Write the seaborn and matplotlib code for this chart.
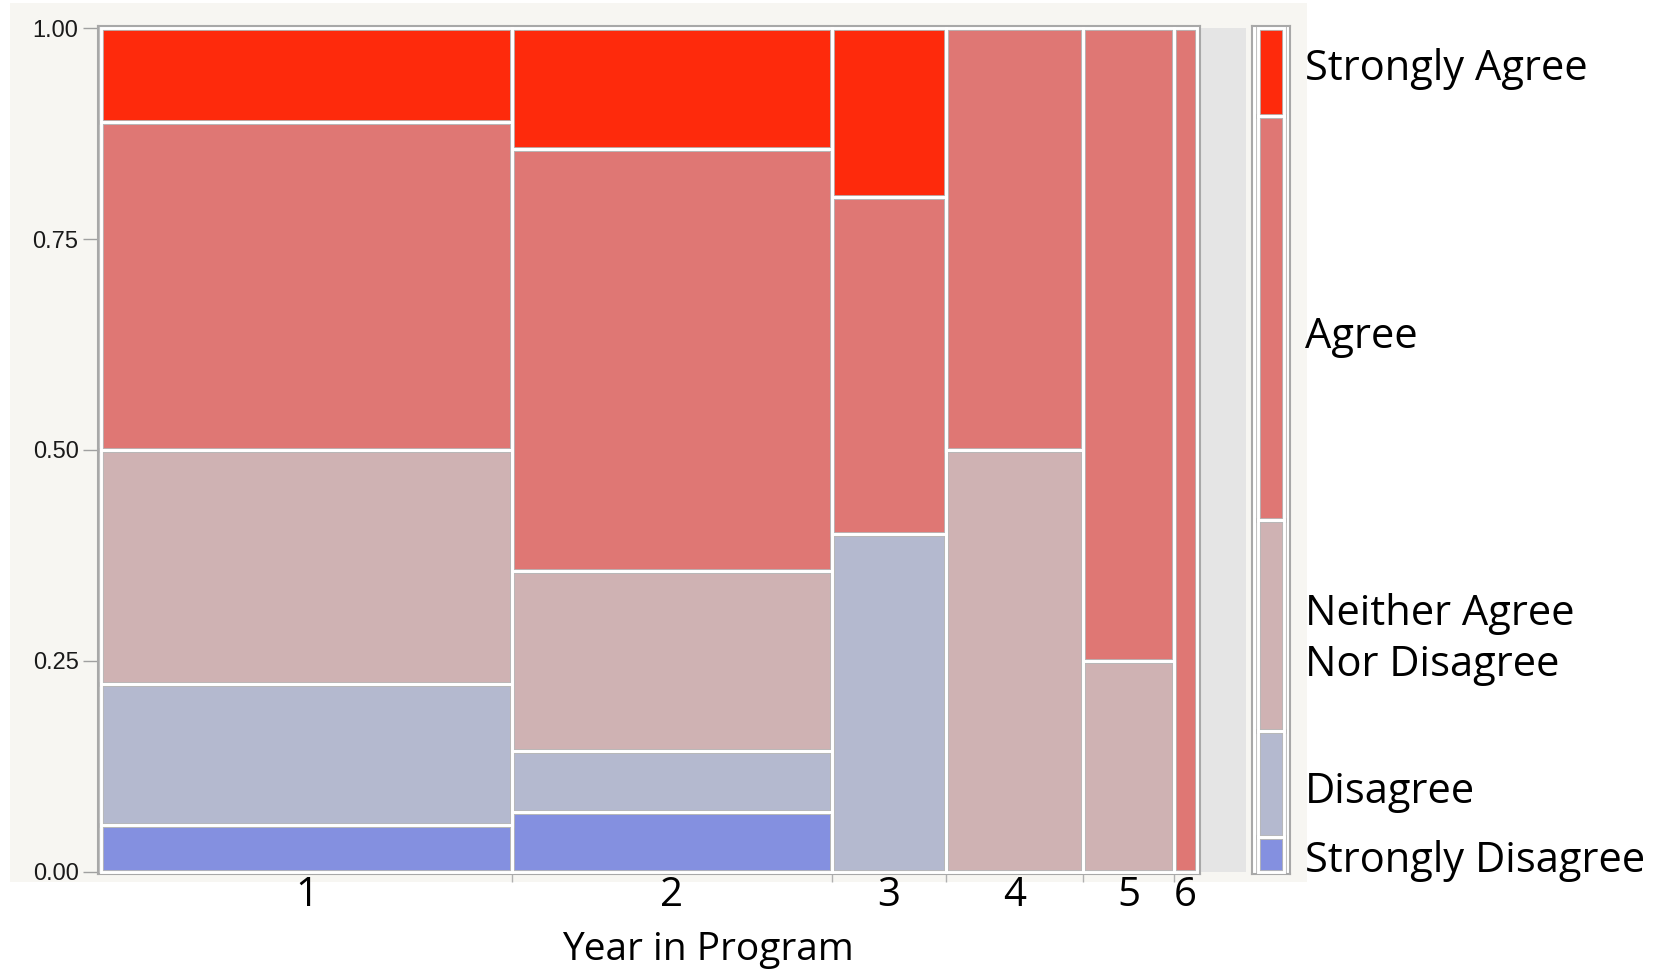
import pandas as pd
import matplotlib.pyplot as plt
from matplotlib.patches import Rectangle
import seaborn as sns

# survey counts per year in program (read from the mosaic tile heights / widths)
years = ['1', '2', '3', '4', '5', '6']
responses = ['Strongly Disagree', 'Disagree', 'Neither Agree\nNor Disagree', 'Agree', 'Strongly Agree']
strongly_disagree = [1, 1, 0, 0, 0, 0]
disagree = [3, 1, 2, 0, 0, 0]
neither = [5, 3, 0, 3, 1, 0]
agree = [7, 7, 2, 3, 3, 1]
strongly_agree = [2, 2, 1, 0, 0, 0]
y_ticks = [0.0, 0.25, 0.50, 0.75, 1.00]

# small vertical nudges for the legend labels (axes units)
label_nudge = [-0.008, -0.009, -0.016, -0.022, 0.004]

sns.set_theme(style="white")
plt.rcParams['font.family'] = ['Open Sans', 'DejaVu Sans']
palette = sns.color_palette(['#8490e0', '#b4b9cf', '#cfb2b3', '#df7774', '#fe2a0c'])

counts = pd.DataFrame(dict(zip(responses, [strongly_disagree, disagree, neither, agree, strongly_agree])),
                      index=years)
totals = counts.sum(axis=1)
lefts = totals.cumsum() - totals
props = counts.div(totals, axis=0)
bottoms = props.cumsum(axis=1) - props

W, H = 1667, 976
fig = plt.figure(figsize=(W / 100, H / 100), dpi=100)

# off-white panel behind the plot and the grey spacer strip
fig.patches.append(Rectangle((10 / W, 94 / H), 1297 / W, 879 / H, transform=fig.transFigure,
                             facecolor='#f7f6f2', edgecolor='none', zorder=-10))
fig.patches.append(Rectangle((1201 / W, 104 / H), 45 / W, 844 / H, transform=fig.transFigure,
                             facecolor='#e5e5e5', edgecolor='none', zorder=-5))

ax_bottom, ax_height = 102 / H, 848 / H
ax = fig.add_axes([98 / W, ax_bottom, 1102 / W, ax_height])
ax.set_facecolor('white')

# tiles: grey rim first, then a white gap on top of every boundary
for resp, col in zip(responses, palette):
    keep = props[resp] > 0
    ax.bar(lefts[keep], props[resp][keep], width=totals[keep], bottom=bottoms[resp][keep],
           align='edge', color=col, edgecolor='#b8b8b8', linewidth=3.4, zorder=2)
for resp in responses:
    keep = props[resp] > 0
    ax.bar(lefts[keep], props[resp][keep], width=totals[keep], bottom=bottoms[resp][keep],
           align='edge', fill=False, edgecolor='white', linewidth=2.1, zorder=3)

n = totals.sum()
ax.set_xlim(-0.13, n + 0.13)
ax.set_ylim(-0.0024, 1.0024)

ax.set_yticks(y_ticks)
ax.set_yticklabels([f'{t:.2f}' for t in y_ticks], family='Liberation Sans', fontsize=17, color='#1a1a1a')
ax.tick_params(axis='y', left=True, length=11, width=1, color='#a0a0a0', pad=3)

ax.set_xticks(lefts + totals / 2)
ax.set_xticklabels(years, fontsize=29, color='black')
ax.set_xticks((lefts + totals)[:-1], minor=True)
ax.tick_params(axis='x', which='major', bottom=False, length=0, pad=1)
ax.tick_params(axis='x', which='minor', bottom=True, length=6, width=1, color='#b0b0b0')
ax.set_xlabel('Year in Program', fontsize=28, color='black')
ax.xaxis.set_label_coords(0.553, -0.067)

for sp in ax.spines.values():
    sp.set_color('#a8a8a8')
    sp.set_linewidth(1.5)

# marginal bar used as the legend
marg = counts.sum() / n
marg_bottom = marg.cumsum() - marg
ax2 = fig.add_axes([1252 / W, ax_bottom, 38 / W, ax_height])
ax2.set_facecolor('white')
ax2.bar([0.17] * len(responses), marg.values, width=0.66, bottom=marg_bottom.values, align='edge',
        color=palette, edgecolor='#b8b8b8', linewidth=3.4, zorder=2)
ax2.bar([0.17] * len(responses), marg.values, width=0.66, bottom=marg_bottom.values, align='edge',
        fill=False, edgecolor='white', linewidth=2.1, zorder=3)
ax2.set_xlim(0, 1)
ax2.set_ylim(-0.0024, 1.0024)
ax2.set_xticks([])
ax2.set_yticks([])
for sp in ax2.spines.values():
    sp.set_color('#a8a8a8')
    sp.set_linewidth(1.5)

for resp, mid, nudge in zip(responses, marg_bottom + marg / 2, label_nudge):
    ax2.text(1.40, mid + nudge, resp, transform=ax2.get_yaxis_transform(), ha='left', va='center',
             fontsize=30, color='black', linespacing=1.3)

fig.savefig('out.png', dpi=100)
